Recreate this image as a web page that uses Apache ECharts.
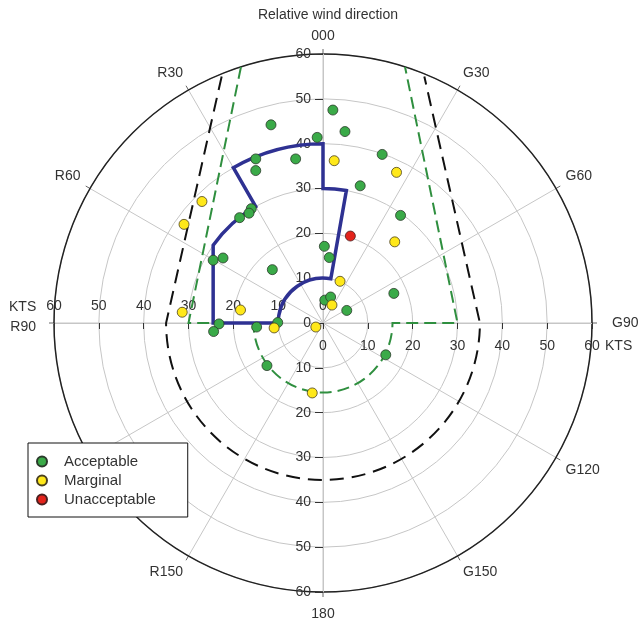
<!DOCTYPE html>
<html>
<head>
<meta charset="utf-8">
<script src="https://cdn.jsdelivr.net/npm/echarts@6/dist/echarts.min.js"></script>
<style>
  html, body { margin: 0; padding: 0; background: #fff; }
  #chart { width: 640px; height: 621px; }
</style>
</head>
<body>
<div id="chart"></div>
<script>
// wind observations, [lateral kts (G +, R -), longitudinal kts]
const acceptable = [
  [2.2, 47.5], [-11.6, 44.2], [4.9, 42.7], [-1.3, 41.4], [-15.0, 36.6], [-6.1, 36.6],
  [-15.0, 34.0], [13.2, 37.6], [8.3, 30.6], [-16.0, 25.5], [-16.5, 24.5], [-18.6, 23.5],
  [17.3, 24.0], [0.3, 17.1], [1.4, 14.6], [-24.5, 14.0], [-22.3, 14.5], [-11.3, 11.9],
  [15.8, 6.6], [0.4, 5.1], [1.7, 5.8], [5.3, 2.8], [-23.2, -0.2], [-24.4, -1.9],
  [-14.8, -0.9], [-10.1, 0.1], [-12.5, -9.5], [14.0, -7.1]
];
const marginal = [
  [2.5, 36.2], [16.4, 33.6], [-27.0, 27.1], [-31.0, 22.0], [16.0, 18.1], [3.8, 9.3],
  [2.0, 4.0], [-31.4, 2.4], [-18.4, 2.9], [-10.9, -1.1], [-1.6, -0.9], [-2.4, -15.6]
];
const unacceptable = [[6.1, 19.4]];

// limit envelopes: [x, y, how to get there] ('L' straight, 'cw'/'ccw' arc round the centre)
const blueLimit = [
  [-20, 34.64, 'M'], [0, 40, 'cw'], [0, 30, 'L'], [5.21, 29.54, 'cw'], [1.74, 9.85, 'L'],
  [-10, 0, 'ccw'], [-24.5, 0, 'L'], [-24.5, 17.32, 'L'], [-15, 25.98, 'cw'], [-20, 34.64, 'L']
];
const greenLimit = [
  [-18.3, 57.1, 'M'], [-30, 0, 'L'], [-15.5, 0, 'L'], [15.5, 0, 'ccw'], [30, 0, 'L'], [18.3, 57.1, 'L']
];
const blackLimit = [
  [-22.6, 55, 'M'], [-35, 0, 'L'], [35, 0, 'ccw'], [22.6, 55, 'L']
];

const directionLabels = {
  0: '000', 30: 'G30', 60: 'G60', 90: '{e|G90}', 120: 'G120', 150: 'G150',
  180: '{s|180}', 210: 'R150', 240: 'R120', 270: '{w|R90}', 300: 'R60', 330: 'R30'
};

const font = 'Liberation Sans, Arial, sans-serif';
const labelColor = '#333';
const gridGray = '#c6c6c6';
const half = 269; // px from the centre to 60 kts

const chart = echarts.init(document.getElementById('chart'));

const envelope = (pts, color, width, dash, closed) => ({
  type: 'custom',
  coordinateSystem: 'cartesian2d',
  silent: true,
  z: closed ? 3 : 2,
  data: [[0, 0]],
  renderItem: (params, api) => {
    const o = api.coord([0, 0]);
    let d = '';
    pts.forEach((p) => {
      const c = api.coord([p[0], p[1]]);
      if (p[2] === 'M') d += 'M' + c[0] + ' ' + c[1];
      else if (p[2] === 'L') d += ' L' + c[0] + ' ' + c[1];
      else {
        const r = Math.hypot(c[0] - o[0], c[1] - o[1]);
        d += ' A' + r + ' ' + r + ' 0 0 ' + (p[2] === 'cw' ? 1 : 0) + ' ' + c[0] + ' ' + c[1];
      }
    });
    if (closed) d += ' Z';
    return {
      type: 'path',
      shape: { pathData: d },
      style: { fill: null, stroke: color, lineWidth: width, lineDash: dash, lineJoin: 'miter' }
    };
  }
});

const valueAxis = {
  type: 'value', min: -60, max: 60, interval: 10,
  offset: -half,
  splitLine: { show: false }
};

chart.setOption({
  animation: false,
  textStyle: { fontFamily: font },
  title: {
    text: 'Relative wind direction',
    left: 323, top: 3, textAlign: 'center',
    textStyle: { fontSize: 14, fontWeight: 'normal', color: labelColor, fontFamily: font }
  },
  legend: {
    orient: 'vertical', left: 28, top: 443,
    data: ['Acceptable', 'Marginal', 'Unacceptable'],
    icon: 'circle', itemWidth: 10, itemHeight: 10, itemGap: 4,
    backgroundColor: '#fff', borderColor: '#111', borderWidth: 1, borderRadius: 0,
    padding: [11, 32, 10, 8], z: 10,
    textStyle: { fontSize: 15, color: labelColor, padding: [0, 0, 0, 12] }
  },
  polar: { center: [323, 323], radius: half },
  angleAxis: {
    type: 'value', min: 0, max: 360, interval: 30, startAngle: 90, clockwise: true,
    axisLine: { lineStyle: { color: '#222', width: 1.5 } },
    axisTick: { show: true, inside: false, length: 5, lineStyle: { color: '#666' } },
    axisLabel: {
      margin: 11, fontSize: 14, color: labelColor,
      formatter: (v) => directionLabels[v] || '',
      rich: {
        e: { padding: [0, 0, 0, 9] },
        w: { padding: [8, 7, 0, 0] },
        s: { padding: [4, 0, 0, 0] }
      }
    },
    splitLine: { show: true, lineStyle: { color: gridGray, width: 1 } }
  },
  radiusAxis: {
    type: 'value', min: 0, max: 60, interval: 10,
    axisLine: { show: false }, axisTick: { show: false }, axisLabel: { show: false },
    splitLine: { show: true, lineStyle: { color: gridGray, width: 1 } }
  },
  grid: { left: 323 - half, top: 323 - half, width: 2 * half, height: 2 * half, outerBoundsMode: 'none' },
  xAxis: [
    Object.assign({}, valueAxis, {
      position: 'bottom',
      axisLine: { onZero: false, lineStyle: { color: gridGray } },
      axisTick: { length: 6, lineStyle: { color: '#333' } },
      axisLabel: { margin: 16, fontSize: 14, color: labelColor, formatter: (v) => (v >= 0 ? String(v) : '') }
    }),
    Object.assign({}, valueAxis, {
      position: 'top',
      axisLine: { onZero: false, show: false },
      axisTick: { show: false },
      axisLabel: { margin: 10, fontSize: 14, color: labelColor, formatter: (v) => (v <= 0 ? String(-v) : '') }
    })
  ],
  yAxis: Object.assign({}, valueAxis, {
    position: 'left',
    axisLine: { onZero: false, lineStyle: { color: gridGray } },
    axisTick: { length: 8, lineStyle: { color: '#333' } },
    axisLabel: { margin: 12, fontSize: 14, color: labelColor, formatter: (v) => String(Math.abs(v)) }
  }),
  graphic: [
    { type: 'text', x: 9, y: 307, style: { text: 'KTS', fontSize: 14, fill: labelColor, fontFamily: font, verticalAlign: 'middle' } },
    { type: 'text', x: 605, y: 346, style: { text: 'KTS', fontSize: 14, fill: labelColor, fontFamily: font, verticalAlign: 'middle' } }
  ],
  series: [
    envelope(blackLimit, '#111', 2, [14, 8], false),
    envelope(greenLimit, '#2f8f3f', 2, [12, 6], false),
    envelope(blueLimit, '#2e3192', 3.5, null, true),
    {
      name: 'Acceptable', type: 'scatter', data: acceptable, symbolSize: 10, z: 5,
      itemStyle: { color: '#3aaa48', borderColor: '#2b3a2b', borderWidth: 0.8, opacity: 1 }
    },
    {
      name: 'Marginal', type: 'scatter', data: marginal, symbolSize: 10, z: 5,
      itemStyle: { color: '#ffe81a', borderColor: '#4a4020', borderWidth: 0.8, opacity: 1 }
    },
    {
      name: 'Unacceptable', type: 'scatter', data: unacceptable, symbolSize: 10, z: 5,
      itemStyle: { color: '#e3231b', borderColor: '#4a2020', borderWidth: 0.8, opacity: 1 }
    }
  ]
});
</script>
</body>
</html>
